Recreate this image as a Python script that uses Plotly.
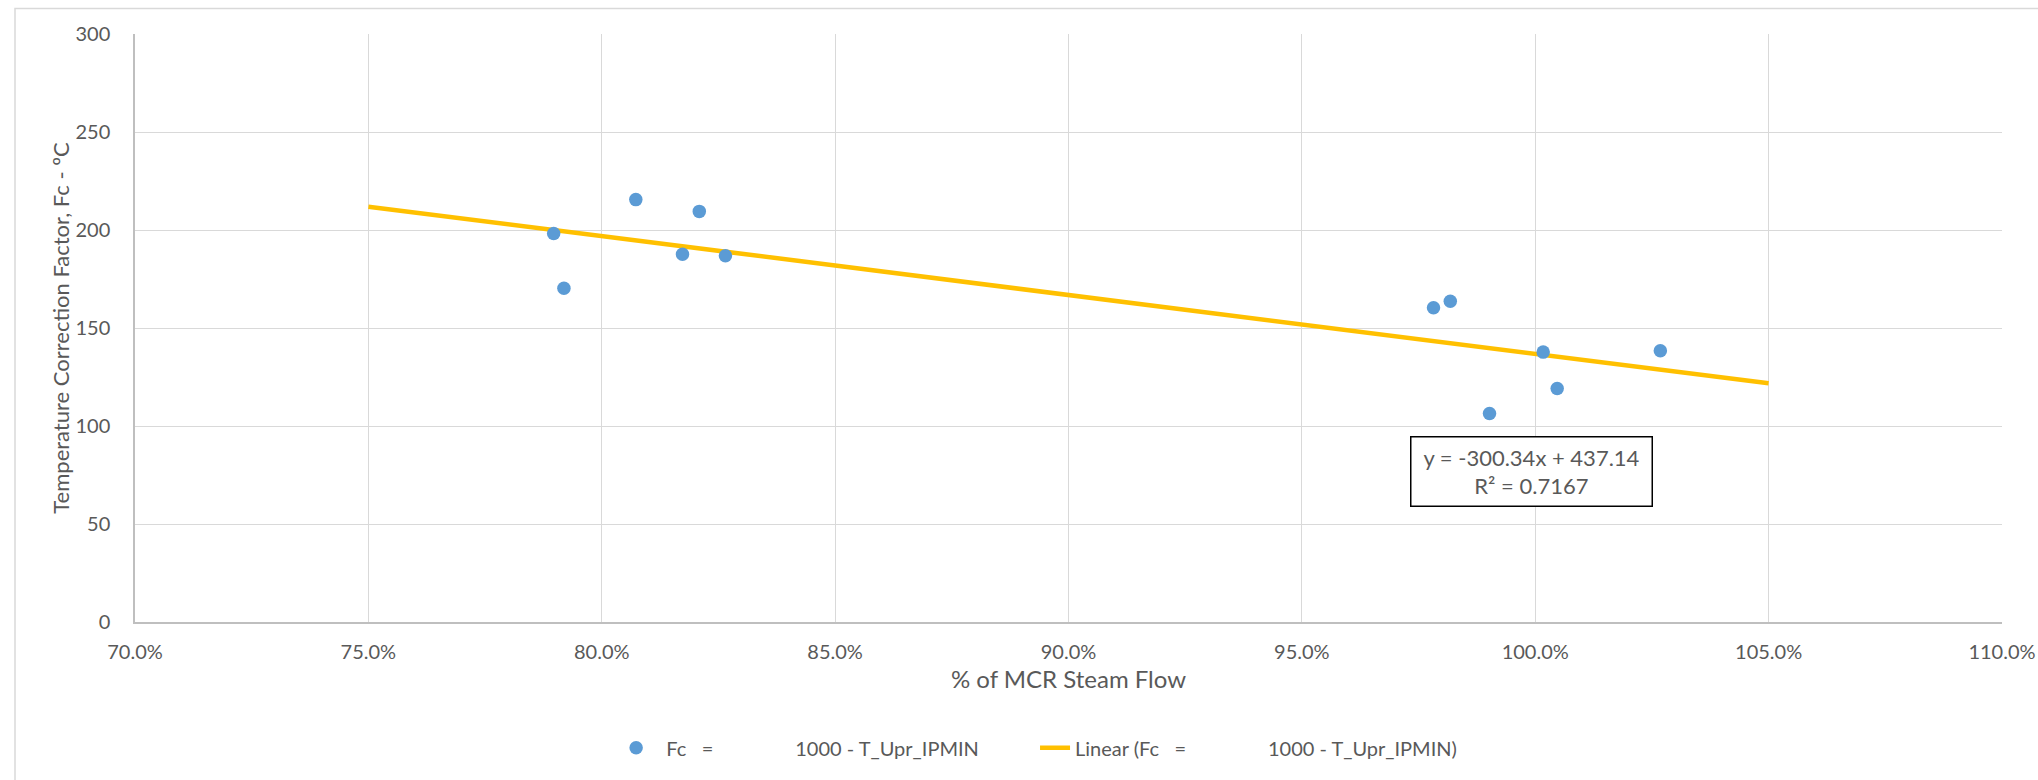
import plotly.graph_objects as go

# ---- data ----
steam_flow = [0.7897, 0.7919, 0.8073, 0.8173, 0.8209, 0.8265,
              0.9782, 0.9818, 0.9902, 1.0017, 1.0047, 1.0268]
fc_values = [198.2, 170.3, 215.5, 187.6, 209.5, 186.9,
             160.3, 163.6, 106.4, 137.7, 119.1, 138.4]

trend_slope = -300.34
trend_intercept = 437.14
trend_r2 = 0.7167
trend_x = [0.75, 1.05]
trend_y = [trend_slope * v + trend_intercept for v in trend_x]

x_ticks = [0.70, 0.75, 0.80, 0.85, 0.90, 0.95, 1.00, 1.05, 1.10]
y_ticks = [0, 50, 100, 150, 200, 250, 300]

NB = "\u00a0"
series_name = NB * 2 + "Fc" + NB * 3 + "=" + NB * 16 + "1000 - T_Upr_IPMIN" + NB * 10
trend_name = "Linear (Fc" + NB * 3 + "=" + NB * 16 + "1000 - T_Upr_IPMIN)"

FONT = "Lato"
GRAY = "#595959"
GRID = "#D9D9D9"

fig = go.Figure()

fig.add_trace(go.Scatter(
    x=trend_x, y=trend_y, mode="lines", name=trend_name,
    line=dict(color="#FFC000", width=4.5), legendrank=2,
    hoverinfo="skip",
))
fig.add_trace(go.Scatter(
    x=steam_flow, y=fc_values, mode="markers", name=series_name,
    marker=dict(color="#5B9BD5", size=13.5, line=dict(width=0)),
    legendrank=1,
))

fig.add_annotation(
    x=0.9993, y=77.0, xref="x", yref="y",
    text=f"y = {trend_slope}x + {trend_intercept}<br>R² = {trend_r2}",
    showarrow=False, font=dict(family=FONT, size=22, color=GRAY),
    bordercolor="#000000", borderwidth=1.5, borderpad=2,
    bgcolor="#FFFFFF", width=236, height=64, align="center",
)

# outer chart-area border (light gray)
fig.add_shape(type="rect", xref="paper", yref="paper",
              x0=(15 - 135) / 1867, x1=(2060 - 135) / 1867,
              y0=(622 - 800) / 588, y1=(622 - 8.5) / 588,
              line=dict(color=GRID, width=1.5), layer="below")

fig.update_layout(
    width=2038, height=780,
    margin=dict(l=135, r=36, t=34, b=158, autoexpand=False),
    paper_bgcolor="#FFFFFF", plot_bgcolor="#FFFFFF",
    font=dict(family=FONT, size=20, color=GRAY),
    showlegend=True,
    legend=dict(orientation="h", x=0.2577, xanchor="left",
                y=-0.214, yanchor="middle",
                font=dict(family=FONT, size=20, color=GRAY),
                bgcolor="rgba(0,0,0,0)"),
    xaxis=dict(range=[0.70, 1.10], tickvals=x_ticks, tickformat=".1%",
               showgrid=True, gridcolor=GRID, gridwidth=1.3,
               showline=True, linecolor="#BFBFBF", linewidth=1.5,
               zeroline=False, ticks="", ticklabelstandoff=11,
               tickfont=dict(family=FONT, size=20, color=GRAY),
               title=dict(text="% of MCR Steam Flow", standoff=9,
                          font=dict(family=FONT, size=24, color=GRAY)),
               automargin=False),
    yaxis=dict(range=[0, 300], tickvals=y_ticks,
               showgrid=True, gridcolor=GRID, gridwidth=1.3,
               showline=True, linecolor="#BFBFBF", linewidth=1.5,
               zeroline=False, ticks="", ticklabelstandoff=19,
               tickfont=dict(family=FONT, size=20, color=GRAY),
               title=dict(text="Temperature Correction Factor, Fc - ºC", standoff=0,
                          font=dict(family=FONT, size=22, color=GRAY)),
               automargin=False),
)

fig.write_html("out.html", config={"displayModeBar": False},
               post_script="document.body.style.margin='0';")
